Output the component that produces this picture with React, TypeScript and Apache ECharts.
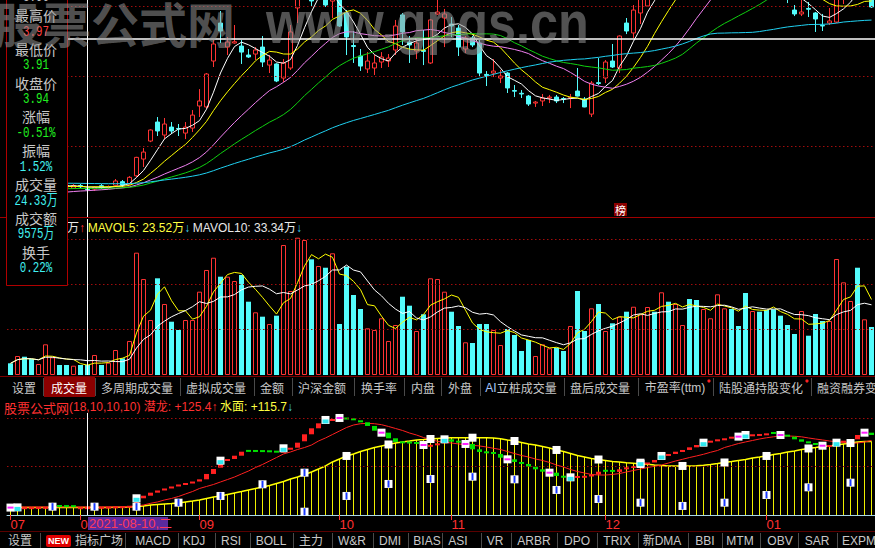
import React, { useEffect, useRef } from "react";
import * as echarts from "echarts";

// daily candles [open, close, low, high]
const candles: number[][] = [
  [3.98, 3.96, 3.95, 3.99], [3.95, 3.97, 3.94, 3.98], [3.97, 3.95, 3.94, 3.98], [3.96, 3.95, 3.93, 3.97],
  [3.95, 3.96, 3.94, 3.97], [3.95, 3.98, 3.94, 3.99], [3.96, 3.97, 3.95, 3.99], [3.97, 3.96, 3.95, 3.98],
  [3.97, 3.96, 3.95, 3.97], [3.95, 3.97, 3.95, 3.98], [3.97, 3.96, 3.95, 3.98], [3.95, 3.94, 3.91, 3.97],
  [3.944, 3.956, 3.93, 3.965], [3.968, 3.954, 3.944, 3.98], [3.955, 3.96, 3.945, 3.97], [3.971, 4.002, 3.958, 4.016],
  [3.997, 3.973, 3.958, 4.009], [3.98, 4.028, 3.973, 4.037], [4.039, 4.171, 4.03, 4.175], [4.159, 4.209, 4.102, 4.238],
  [4.288, 4.367, 4.28, 4.372], [4.424, 4.36, 4.324, 4.46], [4.331, 4.41, 4.302, 4.453], [4.388, 4.36, 4.338, 4.424],
  [4.378, 4.374, 4.324, 4.41], [4.345, 4.388, 4.302, 4.424], [4.381, 4.474, 4.353, 4.51], [4.539, 4.575, 4.46, 4.66],
  [4.532, 4.768, 4.52, 4.775], [4.861, 4.983, 4.818, 5.011], [5.133, 5.076, 4.99, 5.219], [4.961, 4.997, 4.904, 5.033],
  [4.99, 4.999, 4.985, 5.119], [4.968, 4.925, 4.84, 5.011], [4.904, 4.89, 4.883, 4.947], [4.911, 4.94, 4.868, 4.961],
  [4.961, 4.854, 4.818, 5.04], [4.832, 4.868, 4.775, 4.904], [4.84, 4.718, 4.71, 4.845], [4.739, 4.847, 4.711, 4.875],
  [4.811, 5.069, 4.797, 5.119], [5.241, 5.36, 5.133, 5.4], [5.36, 5.5, 5.31, 5.56], [5.45, 5.291, 5.255, 5.5],
  [5.31, 5.35, 5.3, 5.42], [5.45, 5.262, 5.248, 5.5], [5.29, 5.33, 5.169, 5.4], [5.33, 5.112, 5.105, 5.36],
  [5.205, 5.033, 4.904, 5.226], [4.972, 4.965, 4.847, 5.076], [4.897, 4.825, 4.79, 4.947], [4.804, 4.861, 4.775, 4.925],
  [4.811, 4.847, 4.761, 4.904], [4.854, 4.89, 4.811, 4.925], [4.861, 4.882, 4.818, 4.911], [4.94, 5.112, 4.904, 5.155],
  [5.191, 5.069, 4.976, 5.205], [4.997, 4.976, 4.847, 5.04], [4.933, 4.99, 4.875, 5.019], [4.937, 4.93, 4.832, 5.083],
  [4.847, 5.155, 4.84, 5.16], [5.198, 5.212, 5.191, 5.35], [5.169, 5.198, 4.961, 5.234], [5.126, 5.112, 5.033, 5.176],
  [5.097, 4.961, 4.897, 5.119], [4.947, 5.026, 4.918, 5.04], [5.026, 4.976, 4.961, 5.04], [4.99, 4.775, 4.746, 5.011],
  [4.765, 4.758, 4.682, 4.789], [4.775, 4.789, 4.746, 4.875], [4.739, 4.754, 4.703, 4.797], [4.775, 4.668, 4.632, 4.782],
  [4.65, 4.645, 4.603, 4.689], [4.63, 4.625, 4.596, 4.653], [4.61, 4.553, 4.539, 4.618], [4.56, 4.567, 4.532, 4.575],
  [4.575, 4.596, 4.539, 4.625], [4.596, 4.603, 4.56, 4.618], [4.603, 4.575, 4.56, 4.618], [4.592, 4.588, 4.56, 4.603],
  [4.596, 4.6, 4.524, 4.625], [4.646, 4.61, 4.607, 4.811], [4.589, 4.532, 4.53, 4.603], [4.481, 4.703, 4.46, 4.718],
  [4.706, 4.7, 4.689, 4.882], [4.739, 4.854, 4.703, 4.868], [4.861, 4.818, 4.811, 4.983], [4.811, 5.04, 4.775, 5.045],
  [5.133, 5.076, 5.054, 5.169], [5.062, 5.226, 5.026, 5.262], [5.205, 5.31, 5.126, 5.34], [5.255, 5.4, 5.25, 5.43],
  [5.5, 5.45, 5.38, 5.56], [5.45, 5.55, 5.42, 5.6], [5.56, 5.5, 5.46, 5.6], [5.5, 5.62, 5.48, 5.66],
  [5.62, 5.8, 5.6, 5.85], [5.98, 5.95, 5.88, 6.05], [6.05, 6.0, 5.94, 6.1], [5.85, 5.9, 5.8, 5.98],
  [5.86, 5.92, 5.82, 5.98], [5.62, 5.7, 5.58, 5.8], [5.5, 5.55, 5.45, 5.62], [5.5, 5.4, 5.36, 5.55],
  [5.45, 5.38, 5.34, 5.48], [5.42, 5.35, 5.32, 5.46], [5.36, 5.42, 5.33, 5.46], [5.5, 5.45, 5.4, 5.55],
  [5.58, 5.52, 5.48, 5.62], [5.47, 5.42, 5.38, 5.5], [5.42, 5.38, 5.33, 5.45], [5.37, 5.34, 5.276, 5.4],
  [5.226, 5.198, 5.183, 5.262], [5.198, 5.212, 5.183, 5.31], [5.237, 5.232, 5.176, 5.284], [5.205, 5.162, 5.069, 5.212],
  [5.116, 5.112, 5.076, 5.198], [5.133, 5.148, 5.119, 5.241], [5.14, 5.35, 5.133, 5.38], [5.33, 5.4, 5.269, 5.45],
  [5.38, 5.4, 5.33, 5.48], [5.5, 5.45, 5.4, 5.56], [5.36, 5.41, 5.32, 5.46], [5.33, 5.248, 5.241, 5.36],
];

// volume, 万 shares
const volumes: number[] = [
  28.4, 46.1, 44.4, 38.8, 26.7, 74.5, 43.0, 24.3, 24.3, 22.6,
  24.3, 24.33, 48.6, 24.3, 29.9, 60.7, 40.5, 82.6, 297, 233,
  133.5, 234.8, 172.4, 129.4, 109.3, 133.5, 133.5, 202.3, 255, 284.8,
  238.7, 238.7, 228.2, 242.8, 178, 152.2, 141.6, 123.8, 144, 315.6,
  204, 333.4, 327.8, 280.9, 264.7, 260.5, 295.5, 123.8, 263, 194.2,
  160.2, 113.4, 109.3, 137.7, 82.6, 121.4, 190.1, 168.3, 106.8, 147.4,
  234.8, 233, 202.3, 153.7, 119, 79.4, 77.7, 123.8, 123.8, 109.3,
  72.8, 111.7, 97.1, 58.3, 85, 46.1, 74.5, 64.8, 66.3, 58.3,
  119, 204, 106.8, 161.9, 172.4, 106.8, 125.5, 141.6, 153.7, 165.8,
  147.4, 165.1, 153.7, 200.8, 178, 172.4, 121.4, 184.5, 182.1, 160.2,
  137.7, 195.9, 161.9, 160.2, 119, 199.1, 155.4, 153.7, 157.8, 159.5,
  144, 121.4, 99.5, 155.4, 95.4, 148.1, 131.1, 131.1, 281.6, 225,
  179.7, 260.5, 135.2, 116.5,
];

// indicator "水面" (yellow)
const waterLine: number[] = [
  116, 116, 116, 116, 116, 116, 116, 116, 116, 116,
  116, 115.7, 116, 117, 118, 120, 122, 125, 132, 140,
  155, 163, 171, 178, 186, 202, 217, 233, 256, 279,
  295, 318, 341, 364, 388, 411, 434, 457, 488, 519,
  558, 589, 628, 667, 713, 760, 822, 868, 915, 946,
  984, 1015, 1046, 1070, 1093, 1116, 1132, 1147, 1163, 1170,
  1178, 1186, 1192, 1196, 1198, 1198, 1198, 1198, 1197, 1194,
  1183, 1163, 1147, 1124, 1101, 1085, 1062, 1039, 1008, 984,
  953, 922, 899, 876, 860, 845, 829, 822, 811, 801,
  791, 786, 775, 767, 760, 760, 760, 760, 764, 772,
  783, 798, 814, 829, 845, 860, 884, 899, 915, 938,
  953, 977, 992, 1015, 1031, 1046, 1062, 1070, 1085, 1101,
  1116, 1132, 1139, 1139,
];

// indicator "潜龙" (thin red)
const dragonLine: number[] = [
  125, 125, 125, 125, 125, 125, 125, 125, 125, 125,
  125, 125.4, 125, 125, 125, 125, 125, 132, 140, 155,
  181, 202, 233, 256, 287, 326, 364, 411, 442, 473,
  512, 550, 589, 636, 682, 736, 783, 837, 891, 946,
  977, 1015, 1046, 1085, 1147, 1194, 1248, 1302, 1356, 1395,
  1415, 1421, 1415, 1400, 1372, 1341, 1310, 1271, 1240, 1201,
  1170, 1142, 1127, 1116, 1101, 1090, 1080, 1070, 1054, 1034,
  1015, 984, 953, 922, 899, 868, 845, 814, 775, 744,
  705, 674, 651, 628, 620, 620, 628, 643, 667, 690,
  713, 736, 755, 775, 806, 837, 863, 891, 915, 941,
  972, 1000, 1046, 1077, 1108, 1132, 1155, 1178, 1197, 1212,
  1225, 1225, 1220, 1212, 1194, 1178, 1163, 1147, 1136, 1124,
  1112, 1116, 1132, 1155,
];

// red/green step squares
const trendSquares: number[] = [
  115, 118, 121, 122, 124, 126, 126, 124, 122, 121,
  121, 122, 124, 127, 130, 133, 136, 143, 259, 299,
  346, 380, 411, 442, 473, 496, 519, 553, 636, 713,
  842, 868, 919, 981, 978, 977, 975, 972, 966, 1034,
  1043, 1121, 1251, 1344, 1421, 1473, 1488, 1504, 1480, 1468,
  1437, 1380, 1307, 1276, 1189, 1132, 1111, 1108, 1101, 1085,
  1088, 1111, 1173, 1136, 1121, 1101, 1018, 977, 956, 946,
  888, 863, 822, 791, 749, 708, 671, 656, 605, 578,
  584, 605, 608, 628, 671, 670, 668, 708, 739, 760,
  811, 814, 853, 915, 946, 981, 1008, 1049, 1085, 1121,
  1152, 1173, 1189, 1214, 1215, 1240, 1251, 1256, 1266, 1256,
  1240, 1214, 1173, 1136, 1111, 1085, 1074, 1085, 1121, 1152,
  1173, 1240, 1276, 1240,
];

const signalUp: number[] = [1, 18, 30, 39, 45, 62, 80, 90, 93, 99, 105, 118];
const signalDown: number[] = [0, 47, 53, 59, 65, 71, 77, 104, 110, 116, 122];
const waterMarks: number[][] = [
  [48, 915], [54, 1093], [60, 1178], [66, 1198], [72, 1147], [78, 1008], [84, 860],
  [90, 791], [96, 760], [102, 814], [108, 915], [114, 1031], [120, 1116],
];
const stripeMarks: number[][] = [
  [6, 129], [12, 129], [18, 129], [24, 191], [30, 295], [36, 476], [42, 656], [42, 51],
  [48, 295], [54, 481], [60, 558], [66, 594], [72, 553], [78, 388], [84, 248], [90, 191],
  [96, 140], [102, 191], [108, 310], [114, 429], [120, 501],
];

const monthTicks: [number, string][] = [[0, "07"], [10, "08"], [27, "09"], [47, "10"], [63, "11"], [85, "12"], [108, "01"]];
const maPeriods = [5, 10, 20, 30, 60];
const maSeeds = [3.96, 3.96, 3.89, 3.94, 3.99]; // level of each average at the left edge
const maColors = ["#ffffff", "#ffff00", "#f080f0", "#10d010", "#20d0f0"];
const priceGridValues = [4.25, 4.75, 5.25];
const volumeGridValues = [110, 220, 330];
const indicatorGridValues = [760, 1500];
const crossIndex = 11;
const crossPrice = 5.02;

const infoRows: [string, string][] = [
  ["最高价", "3.97"], ["最低价", "3.91"], ["收盘价", "3.94"], ["涨幅", "-0.51%"],
  ["振幅", "1.52%"], ["成交量", "24.33万"], ["成交额", "9575万"], ["换手", "0.22%"],
];
const infoColors = ["#ff4040", "#20f020", "#20f020", "#20f020", "#40f0f0", "#40f0f0", "#40f0f0", "#40f0f0"];

const RED = "#ff3333";
const CYAN = "#54fcfc";
const CJK = '"Noto Sans CJK SC", sans-serif';
const LAT = '"Liberation Sans", "Noto Sans CJK SC", sans-serif';

function movingAverage(values: number[], period: number, seed?: number): number[] {
  return values.map((_, i) => {
    let sum = 0;
    let n = 0;
    for (let k = i - period + 1; k <= i; k++) {
      if (k >= 0) { sum += values[k]; n++; }
      else if (seed !== undefined) { sum += seed; n++; }
    }
    return +(sum / n).toFixed(4);
  });
}

function txt(x: number, y: number, text: string, fill: string, size: number, extra: any = {}) {
  const align = extra.align || "center";
  return {
    type: "text", x, y, z: 100, scaleX: extra.scaleX || 1, silent: true,
    style: {
      text, fill, fontSize: size, fontFamily: extra.font || CJK, fontWeight: extra.weight || "normal",
      align, verticalAlign: "middle", textAlign: align, textVerticalAlign: "middle",
      rich: extra.rich,
    },
  };
}
function vline(x: number, y1: number, y2: number, color: string) {
  return { type: "line", z: 100, silent: true, shape: { x1: x, y1, x2: x, y2 }, style: { stroke: color, lineWidth: 1 } };
}
function hline(y: number, x1: number, x2: number, color: string) {
  return { type: "line", z: 100, silent: true, shape: { x1, y1: y, x2, y2: y }, style: { stroke: color, lineWidth: 1 } };
}

function buildOption() {
  const cats = candles.map((_, i) => String(i));
  const closes = candles.map((c) => c[1]);
  const isUp = candles.map((c) => c[1] >= c[0]);
  const monthMap = new Map<number, string>(monthTicks);
  const dotted = { color: "#a00c0c", type: [1.5, 2.5], width: 1 };
  const crossV = { xAxis: String(crossIndex), lineStyle: { color: "#ffffff", width: 1, type: "solid" } };
  const mk = (data: any[]) => ({ silent: true, symbol: ["none", "none"], label: { show: false }, animation: false, data });

  const baseX = (g: number) => ({
    type: "category", gridIndex: g, data: cats, boundaryGap: true, show: g === 2,
    axisLine: { show: g === 2, lineStyle: { color: "#a8d8e8", width: 1 } },
    axisTick: {
      show: g === 2, interval: (i: number) => monthMap.has(i), alignWithLabel: true, length: 5,
      lineStyle: { color: "#ff3030" },
    },
    axisLabel: {
      show: g === 2, interval: (i: number) => monthMap.has(i),
      formatter: (_v: string, i: number) => monthMap.get(i) || "",
      color: "#ff3030", fontSize: 13, align: "left", margin: 3, fontFamily: LAT,
    },
    splitLine: { show: false },
  });

  const squaresRender = (params: any, api: any) => {
    const i = params.dataIndex;
    const prevV = i > 0 ? trendSquares[i - 1] : trendSquares[i];
    const cur = api.coord([api.value(0), api.value(1)]);
    const prev = api.coord([api.value(0), prevV]);
    const h = Math.max(2, Math.min(7, Math.abs(cur[1] - prev[1])));
    const rising = trendSquares[i] >= prevV;
    return {
      type: "rect",
      shape: { x: cur[0] - 2.5, y: rising ? cur[1] : cur[1] - h, width: 5, height: h },
      style: { fill: rising ? "#ff2020" : "#00e000" },
    };
  };

  const scatter = (data: number[][], color: string, size: number[], offset: number[] = [0, 0], z = 6) => ({
    type: "scatter", xAxisIndex: 2, yAxisIndex: 2, data, symbol: "rect", symbolSize: size, symbolOffset: offset,
    itemStyle: { color, opacity: 1 }, z, silent: true, clip: true,
  });

  const upPts = signalUp.map((i) => [i, trendSquares[i]]);
  const downPts = signalDown.map((i) => [i, trendSquares[i]]);

  const series: any[] = [
    {
      type: "candlestick", xAxisIndex: 0, yAxisIndex: 0, data: candles, barWidth: 5, clip: true, silent: true,
      itemStyle: { color: "#000000", color0: CYAN, borderColor: RED, borderColor0: CYAN, borderWidth: 1 },
      markLine: mk([
        ...priceGridValues.map((v) => ({ yAxis: v, lineStyle: dotted })),
        { yAxis: crossPrice, lineStyle: { color: "#ffffff", width: 1.5, type: "solid" } },
        crossV,
      ]),
    },
    ...maPeriods.map((p, k) => ({
      type: "line", xAxisIndex: 0, yAxisIndex: 0, data: movingAverage(closes, p, maSeeds[k]),
      symbol: "none", silent: true, z: 3, lineStyle: { color: maColors[k], width: 1 }, itemStyle: { color: maColors[k] },
    })),
    {
      type: "bar", xAxisIndex: 1, yAxisIndex: 1, barWidth: 5, silent: true,
      data: volumes.map((v, i) => ({
        value: v,
        itemStyle: isUp[i] ? { color: "rgba(0,0,0,0)", borderColor: RED, borderWidth: 1 } : { color: CYAN },
      })),
      markLine: mk([...volumeGridValues.map((v) => ({ yAxis: v, lineStyle: dotted })), crossV]),
    },
    {
      type: "line", xAxisIndex: 1, yAxisIndex: 1, data: movingAverage(volumes, 5), symbol: "none", silent: true, z: 3,
      lineStyle: { color: "#ffff00", width: 1 }, itemStyle: { color: "#ffff00" },
    },
    {
      type: "line", xAxisIndex: 1, yAxisIndex: 1, data: movingAverage(volumes, 10), symbol: "none", silent: true, z: 3,
      lineStyle: { color: "#ffffff", width: 1 }, itemStyle: { color: "#ffffff" },
    },
    {
      type: "bar", xAxisIndex: 2, yAxisIndex: 2, data: waterLine, barWidth: 1, silent: true,
      itemStyle: { color: "#f0f000" },
      markLine: mk([...indicatorGridValues.map((v) => ({ yAxis: v, lineStyle: dotted })), crossV]),
    },
    {
      type: "line", xAxisIndex: 2, yAxisIndex: 2, data: waterLine, symbol: "none", silent: true, z: 3,
      lineStyle: { color: "#ffff00", width: 1.5 }, itemStyle: { color: "#ffff00" },
    },
    {
      type: "line", xAxisIndex: 2, yAxisIndex: 2, data: dragonLine, symbol: "none", silent: true, z: 3,
      lineStyle: { color: "#ff2020", width: 1 }, itemStyle: { color: "#ff2020" },
    },
    {
      type: "custom", xAxisIndex: 2, yAxisIndex: 2, silent: true, z: 4, clip: true,
      data: trendSquares.map((v, i) => [i, v]), renderItem: squaresRender,
    },
    scatter([...upPts, ...downPts, ...waterMarks, ...stripeMarks], "#ffffff", [8, 8]),
    scatter(upPts, "#30e8f0", [6, 4], [0, 1.5], 7),
    scatter(downPts, "#ff20ff", [6, 2], [0, 0], 7),
    scatter(stripeMarks, "#1838ff", [2, 7], [0, 0], 7),
  ];

  // ---------- overlay graphics ----------
  const g: any[] = [];
  g.push(hline(217.5, 0, 875, "#a00000"));

  // tab bar 1
  g.push({ type: "rect", z: 99, silent: true, shape: { x: 0, y: 376, width: 875, height: 21 }, style: { fill: "#000000" } });
  g.push(hline(376.5, 0, 875, "#7a0000"));
  g.push({ type: "rect", z: 100, silent: true, shape: { x: 44, y: 377, width: 51, height: 20 }, style: { fill: "#8c0000" } });
  [43, 95, 180, 254, 292, 354, 404, 441, 480, 564, 638, 713, 811].forEach((x) => g.push(vline(x + 0.5, 378, 396, "#4a4a4a")));
  const tabs1: [string, number][] = [
    ["设置", 24], ["多周期成交量", 137], ["虚拟成交量", 216], ["金额", 272], ["沪深金额", 322],
    ["换手率", 379], ["内盘", 423], ["外盘", 460], ["盘后成交量", 600], ["陆股通持股变化", 761],
  ];
  tabs1.forEach(([t, x]) => g.push(txt(x, 387.5, t, "#c8c8c8", 12)));
  g.push(txt(69, 387.5, "成交量", "#ffffff", 12));
  g.push(txt(521, 387.5, "{a|AI}{b|立桩成交量}", "#c8c8c8", 12, {
    rich: { a: { fill: "#a8c8ff", fontSize: 12, fontFamily: LAT }, b: { fill: "#c8c8c8", fontSize: 12, fontFamily: CJK } },
  }));
  g.push(txt(675, 387.5, "市盈率(ttm)", "#c8c8c8", 12, { font: LAT }));
  g.push(txt(817, 387.5, "融资融券变动", "#c8c8c8", 12, { align: "left" }));
  g.push({ type: "circle", z: 101, silent: true, shape: { cx: 709, cy: 381, r: 1.6 }, style: { fill: "#ff2020" } });
  g.push({ type: "circle", z: 101, silent: true, shape: { cx: 807, cy: 381, r: 1.6 }, style: { fill: "#ff2020" } });

  // indicator header
  g.push(txt(4, 407, "{k|股票公式网}{r|(18,10,10,10) 潜龙: +125.4↑} {y|水面: +115.7}{c|↓}", "#ff3030", 12, {
    align: "left",
    rich: {
      k: { fill: "#ff3030", fontSize: 13, fontFamily: CJK },
      r: { fill: "#ff3030", fontSize: 12, fontFamily: LAT },
      y: { fill: "#ffff40", fontSize: 12, fontFamily: LAT },
      c: { fill: "#40d0f0", fontSize: 12, fontFamily: LAT },
    },
  }));

  // volume header
  g.push(txt(67, 228, "{w|万}{r|↑} {y|MAVOL5: 23.52万}{c|↓} {w|MAVOL10: 33.34万}{c|↓}", "#ffffff", 12, {
    align: "left",
    rich: {
      w: { fill: "#e8e8e8", fontSize: 12, fontFamily: LAT },
      r: { fill: "#ff3030", fontSize: 12, fontFamily: LAT },
      y: { fill: "#ffff40", fontSize: 12, fontFamily: LAT },
      c: { fill: "#40d0f0", fontSize: 12, fontFamily: LAT },
    },
  }));

  // date box
  g.push({ type: "rect", z: 100, silent: true, shape: { x: 88, y: 517, width: 80, height: 13 }, style: { fill: "#5b2a9e" } });
  g.push(txt(89, 523.5, "2021-08-10,二", "#ff3a5a", 13, { align: "left", font: LAT }));

  // tab bar 2
  g.push(hline(531.5, 0, 875, "#5a0000"));
  [40, 125, 178, 215, 250, 293, 332, 373, 408, 442, 481, 511, 557, 597, 638, 688, 722, 760, 798, 837]
    .forEach((x) => g.push(vline(x + 0.5, 533, 548, "#4a4a4a")));
  const tabs2: [string, number][] = [
    ["设置", 20], ["指标广场", 99], ["MACD", 153], ["KDJ", 194], ["RSI", 231], ["BOLL", 271], ["主力", 311],
    ["W&R", 352], ["DMI", 390], ["BIAS", 427], ["ASI", 458], ["VR", 495], ["ARBR", 534], ["DPO", 577],
    ["TRIX", 617], ["新DMA", 662], ["BBI", 705], ["MTM", 740], ["OBV", 780], ["SAR", 817],
  ];
  tabs2.forEach(([t, x]) => g.push(txt(x, 541, t, "#c8c8c8", 12, { font: LAT })));
  g.push(txt(842, 541, "EXPMA", "#c8c8c8", 12, { align: "left", font: LAT }));
  g.push({ type: "rect", z: 100, silent: true, shape: { x: 46, y: 535, width: 25, height: 12, r: 2 }, style: { fill: "#e00000" } });
  g.push(txt(58.5, 541, "NEW", "#ffffff", 9, { font: LAT, weight: "bold" }));

  // 榜 badge
  g.push({ type: "rect", z: 100, silent: true, shape: { x: 614, y: 203, width: 13, height: 13 }, style: { fill: "#8b0000" } });
  g.push(txt(620.5, 209.5, "榜", "#ffffff", 11));

  // info box
  g.push({
    type: "rect", z: 100, silent: true, shape: { x: 6.5, y: -1, width: 61, height: 286.5 },
    style: { fill: "#000000", stroke: "#b00000", lineWidth: 1 },
  });
  g.push(txt(36, -3, "3.96", "#c0c0c0", 15, { font: '"Liberation Mono", monospace', scaleX: 0.72 }));
  infoRows.forEach(([label, value], k) => {
    const y0 = 15 + k * 33.8;
    g.push(txt(36, y0, label, "#c8c8c8", 14));
    g.push(txt(36, y0 + 16.5, value, infoColors[k], 15, { font: '"Liberation Mono", "Noto Sans CJK SC", monospace', scaleX: 0.72 }));
  });

  // watermark
  g.push({
    type: "text", x: -5, y: 22, z: 200, silent: true,
    style: {
      text: "股票公式网", fill: "rgba(150,150,150,0.55)", fontSize: 48, fontWeight: "bold", fontFamily: CJK,
      align: "left", verticalAlign: "middle", textAlign: "left", textVerticalAlign: "middle",
    },
  });
  g.push({
    type: "text", x: 266, y: 22, z: 200, scaleX: 0.84, silent: true,
    style: {
      text: "www.gpgs.cn", fill: "rgba(150,150,150,0.55)", fontSize: 60, fontWeight: "bold", fontFamily: LAT,
      align: "left", verticalAlign: "middle", textAlign: "left", textVerticalAlign: "middle",
    },
  });

  return {
    backgroundColor: "#000000",
    animation: false,
    grid: [
      { left: 7, top: 0, width: 868, height: 217 },
      { left: 7, top: 219, width: 868, height: 156 },
      { left: 7, top: 413, width: 868, height: 102 },
    ],
    xAxis: [baseX(0), baseX(1), baseX(2)],
    yAxis: [
      { type: "value", gridIndex: 0, min: 3.744, max: 5.298, show: false, splitLine: { show: false } },
      { type: "value", gridIndex: 1, min: 0, max: 378.8, show: false, splitLine: { show: false } },
      { type: "value", gridIndex: 2, min: 0, max: 1581, show: false, splitLine: { show: false } },
    ],
    series,
    graphic: { elements: g },
  };
}

export default function App() {
  const ref = useRef<HTMLDivElement>(null);
  useEffect(() => {
    if (!ref.current) return;
    const chart = echarts.init(ref.current, null, { renderer: "svg" });
    chart.setOption(buildOption() as any);
    return () => chart.dispose();
  }, []);
  return (
    <div
      ref={ref}
      style={{ position: "fixed", left: 0, top: 0, width: 875, height: 548, background: "#000000" }}
    />
  );
}
